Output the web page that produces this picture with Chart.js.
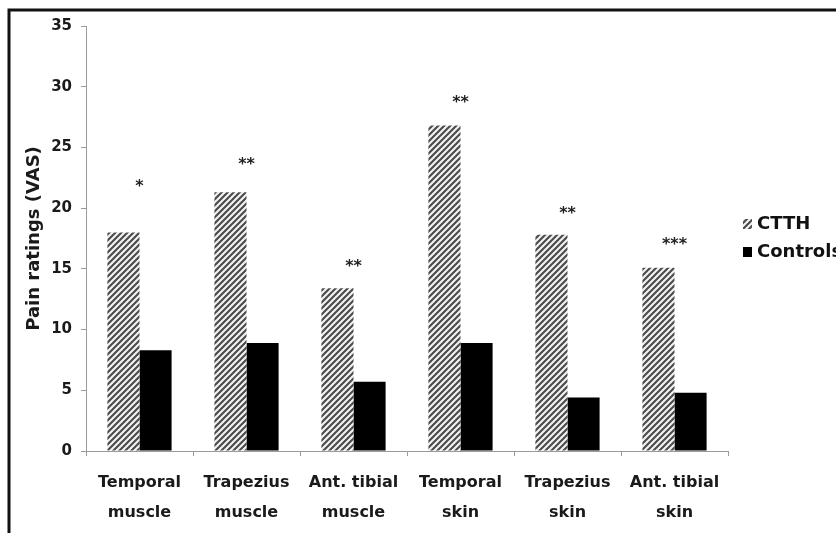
<!DOCTYPE html>
<html>
<head>
<meta charset="utf-8">
<script src="https://cdn.jsdelivr.net/npm/chart.js@4/dist/chart.umd.min.js"></script>
<style>
  html, body { margin: 0; padding: 0; background: #fff; }
  #wrap { width: 836px; height: 533px; position: relative; }
</style>
</head>
<body>
<div id="wrap"><canvas id="c" width="836" height="533"></canvas></div>
<script>
// Pain ratings (VAS) by stimulation site
const sites = [
  ['Temporal', 'muscle'],
  ['Trapezius', 'muscle'],
  ['Ant. tibial', 'muscle'],
  ['Temporal', 'skin'],
  ['Trapezius', 'skin'],
  ['Ant. tibial', 'skin']
];
const ctthValues = [18.0, 21.3, 13.4, 26.8, 17.8, 15.1];
const controlValues = [8.3, 8.9, 5.7, 8.9, 4.4, 4.8];
const significance = ['*', '**', '**', '**', '**', '***'];
const yTicks = [0, 5, 10, 15, 20, 25, 30, 35];

const FONT = '"DejaVu Sans", "Liberation Sans", Arial, sans-serif';

// diagonal hatch fill for the CTTH bars
function hatchPattern() {
  const n = 6;
  const t = document.createElement('canvas');
  t.width = n; t.height = n;
  const g = t.getContext('2d');
  g.fillStyle = '#f2f2f2';
  g.fillRect(0, 0, n, n);
  g.strokeStyle = '#4a4a4a';
  g.lineWidth = 2.1;
  g.beginPath();
  g.moveTo(-1, n + 1); g.lineTo(n + 1, -1);
  g.moveTo(-2, 2); g.lineTo(2, -2);
  g.moveTo(n - 2, n + 2); g.lineTo(n + 2, n - 2);
  g.stroke();
  return g.createPattern(t, 'repeat');
}
const hatch = hatchPattern();

// gap (px) between each hatched bar top and its significance stars
const starGap = [48, 30, 23, 25, 23, 25];

const extras = {
  id: 'extras',
  afterDraw(chart) {
    const ctx = chart.ctx;
    const x = chart.scales.x, y = chart.scales.y;
    ctx.save();
    // significance stars
    ctx.fillStyle = '#222';
    ctx.font = 'bold 16px ' + FONT;
    ctx.textAlign = 'center';
    ctx.textBaseline = 'middle';
    significance.forEach((s, i) => {
      const cx = x.getPixelForValue(i);
      const top = y.getPixelForValue(ctthValues[i]);
      ctx.fillText(s, cx, top - starGap[i] + 2);
    });
    // legend
    const items = chart.data.datasets;
    const lx = 743, ly = [224, 252];
    ctx.textAlign = 'left';
    ctx.font = 'bold 18px ' + FONT;
    items.forEach((d, i) => {
      ctx.fillStyle = d.backgroundColor;
      ctx.fillRect(lx, ly[i] - 5, 9, 10);
      ctx.fillStyle = '#111';
      ctx.fillText(d.label, lx + 14, ly[i]);
    });
    // frame
    ctx.strokeStyle = '#111';
    ctx.lineWidth = 3;
    ctx.beginPath();
    ctx.moveTo(9, 533);
    ctx.lineTo(9, 10);
    ctx.lineTo(836, 10);
    ctx.stroke();
    ctx.restore();
  }
};

new Chart(document.getElementById('c'), {
  type: 'bar',
  data: {
    labels: sites,
    datasets: [
      { label: 'CTTH', data: ctthValues, backgroundColor: hatch, borderWidth: 0 },
      { label: 'Controls', data: controlValues, backgroundColor: '#000000', borderWidth: 0 }
    ]
  },
  options: {
    responsive: false,
    animation: false,
    devicePixelRatio: 1,
    layout: { padding: { left: 12, top: 26, right: 108, bottom: 5 } },
    datasets: { bar: { categoryPercentage: 0.6, barPercentage: 1.0 } },
    plugins: { legend: { display: false }, tooltip: { enabled: false } },
    scales: {
      x: {
        afterFit(scale) { scale.height = 77; },
        grid: { display: true, drawOnChartArea: false, drawTicks: true, tickLength: 5, color: '#9a9a9a', offset: true },
        border: { display: true, color: '#9a9a9a', width: 1 },
        ticks: {
          color: '#1a1a1a',
          padding: 12,
          maxRotation: 0,
          autoSkip: false,
          font: { family: FONT, size: 16, weight: 'bold', lineHeight: 1.85 }
        }
      },
      y: {
        min: 0,
        max: 35,
        afterBuildTicks(scale) { scale.ticks = yTicks.map(v => ({ value: v })); },
        afterFit(scale) { scale.width = 74; },
        grid: { display: true, drawOnChartArea: false, drawTicks: true, tickLength: 5, color: '#9a9a9a' },
        border: { display: true, color: '#9a9a9a', width: 1 },
        ticks: {
          color: '#1a1a1a',
          padding: 9,
          font: { family: FONT, size: 15, weight: 'bold' }
        },
        title: {
          display: true,
          text: 'Pain ratings (VAS)',
          color: '#1a1a1a',
          padding: { top: 12, bottom: 0 },
          font: { family: FONT, size: 18, weight: 'bold' }
        }
      }
    }
  },
  plugins: [extras]
});
</script>
</body>
</html>
